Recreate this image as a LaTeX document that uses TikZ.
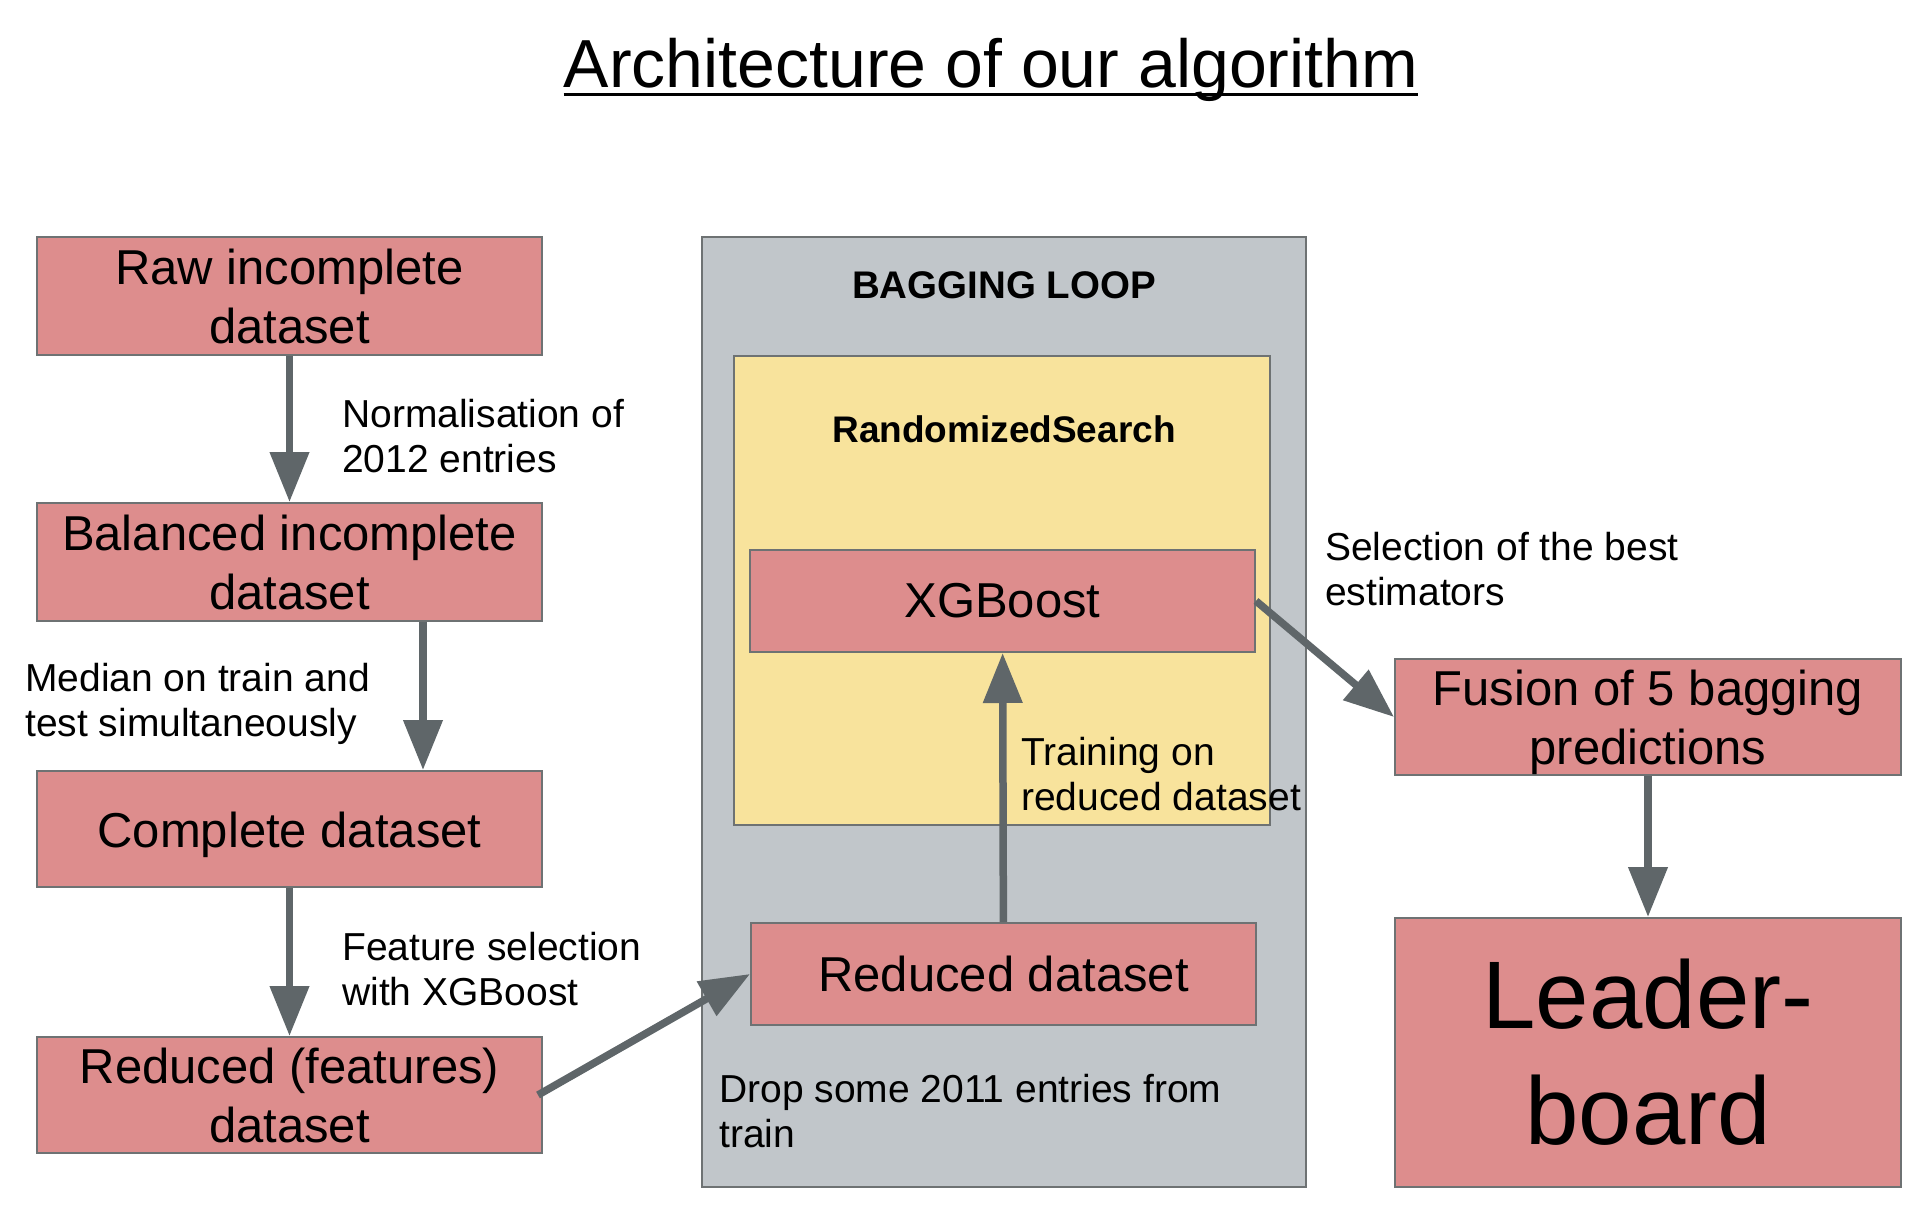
\documentclass[tikz,border=0pt]{standalone}
\usepackage{fontspec}
\setmainfont{Liberation Sans}
\usetikzlibrary{arrows.meta}

\definecolor{boxred}{HTML}{DD8D8D}
\definecolor{loopgray}{HTML}{C1C6CA}
\definecolor{searchyellow}{HTML}{F8E39C}
\definecolor{arrowgray}{HTML}{5F6669}
\definecolor{edgegray}{HTML}{6E7273}

\begin{document}
\begin{tikzpicture}[x=1pt,y=-1pt,
    stage/.style ={draw=edgegray, line width=2pt, fill=boxred, inner sep=0pt,
      minimum width=505pt, minimum height=118pt, align=center,
      font=\fontsize{49}{59}\selectfont},
    frame/.style ={draw=edgegray, line width=2pt, inner sep=0pt},
    heading/.style ={font=\bfseries\fontsize{37}{44}\selectfont},
    remark/.style ={anchor=west, align=left, inner sep=0pt,
      font=\fontsize{39}{45}\selectfont},
    flow/.style ={draw=arrowgray, line width=7.5pt,
      -{Triangle[length=50pt,width=38pt]}}]
   \useasboundingbox[fill=white] (0,0) rectangle (1924,1217);
   % title
   \node[inner sep=0pt, anchor=base, font=\fontsize{68}{80}\selectfont] (title) at (991,88) {Architecture of our algorithm};
   \draw[line width=3pt] ([yshift=-7pt]title.base west) -- ([yshift=-7pt]title.base east);
   % containers
   \node[frame, fill=loopgray, minimum width=604pt, minimum height=950pt] (loop) at (1004,712) {};
   \node[frame, fill=searchyellow, minimum width=536pt, minimum height=469pt] (search) at (1002,590.5) {};
   \node[heading, font=\bfseries\fontsize{38.5}{44}\selectfont] (looptitle) at (1004,285) {BAGGING LOOP};
   \node[heading] (searchtitle) at (1004,429) {RandomizedSearch};
   % stages
   \node[stage] (raw) at (289.5,296) {Raw incomplete\\dataset};
   \node[stage] (bal) at (289.5,562) {Balanced incomplete\\dataset};
   \node[stage, minimum height=116pt] (comp) at (289.5,829) {\rule{0pt}{48pt}Complete dataset};
   \node[stage, minimum height=116pt] (redf) at (289.5,1095) {Reduced (features)\\dataset};
   \node[stage, minimum height=102pt] (xgb) at (1002.5,601) {XGBoost};
   \node[stage, minimum height=102pt] (rdata) at (1003.5,974) {Reduced dataset};
   \node[stage, minimum width=506pt, minimum height=116pt] (fusion) at (1648,717) {\rule{0pt}{47pt}Fusion of 5 bagging\\predictions};
   \node[stage, minimum width=506pt, minimum height=269pt,
     font=\fontsize{96}{116}\selectfont] (leader) at (1648,1052.5) {Leader-\\board};
   % remarks
   \node[remark] (norm) at (342,436) {Normalisation of\\2012 entries};
   \node[remark] (median) at (25,704) {Median on train and\\test simultaneously};
   \node[remark] (feat) at (342,969) {Feature selection\\with XGBoost};
   \node[remark] (drop) at (719,1111) {Drop some 2011 entries from\\train};
   \node[remark] (train) at (1021,774) {Training on\\reduced dataset};
   \node[remark] (best) at (1325,569) {Selection of the best\\estimators};
   % arrows
   \draw[flow] (raw) to (bal);
   \draw[flow] ([xshift=133.5pt]bal.south) to ([xshift=133.5pt]comp.north);
   \draw[flow] (comp) to (redf);
   \draw[flow] ([xshift=-5pt]redf.east) to (rdata.west);
   \draw[flow] (rdata) to (xgb);
   \draw[flow] (xgb.east) to (fusion.west);
   \draw[flow] (fusion) to (leader);
\end{tikzpicture}
\end{document}
